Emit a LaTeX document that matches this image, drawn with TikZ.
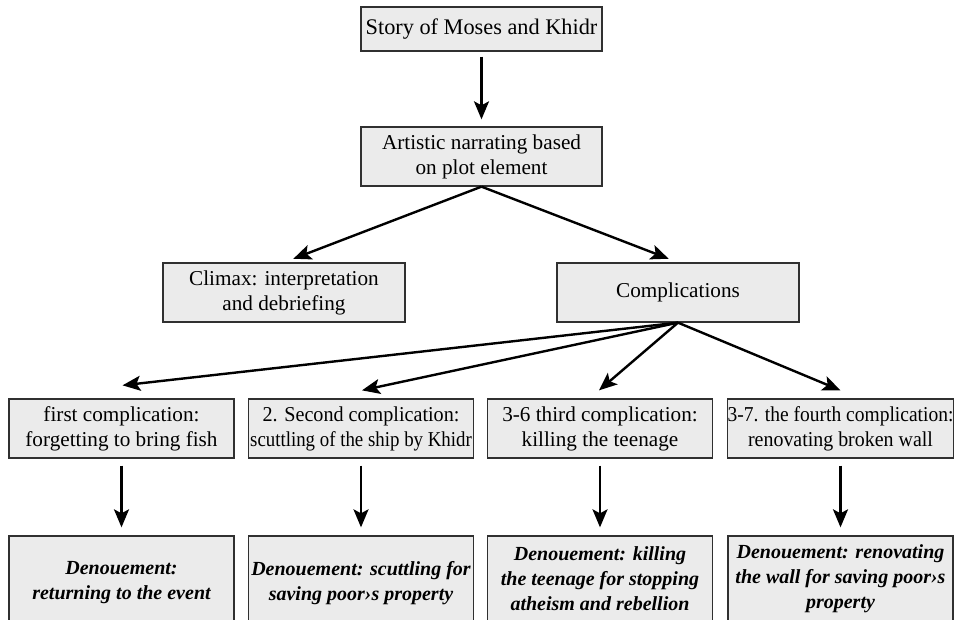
\documentclass[tikz,border=0pt]{standalone}
\usepackage{fontspec}
\setmainfont{Liberation Serif}
\usepackage{graphicx}
\usetikzlibrary{arrows.meta}
\definecolor{boxfill}{HTML}{EBEBEB}
\definecolor{boxline}{HTML}{303030}
\begin{document}
\begin{tikzpicture}[x=1pt,y=-1pt,
  box/.style={draw=boxline, line width=1.3pt, fill=boxfill, inner sep=0pt,
    align=center, font=\fontsize{21.2}{25}\selectfont},
  wide/.style={box, minimum width=241pt, minimum height=59pt},
  small/.style={box, minimum width=225pt, minimum height=59pt},
  denbox/.style={box, minimum width=225pt, minimum height=86pt,
    font=\fontsize{20}{25}\selectfont\bfseries\itshape},
  arr/.style={line width=2.4pt, -{Stealth[length=18pt,width=15pt,inset=4pt]}}
]
\useasboundingbox (0,0) rectangle (954,620);

\node[wide, minimum height=44pt, font=\fontsize{22.3}{25}\selectfont] (story) at (481.5,29) {Story of Moses and Khidr};
\node[wide] (art) at (481.5,156.5) {Artistic narrating based\\on plot element};
\node[wide, minimum width=242pt] (climax) at (284,292.5) {Climax: interpretation\\and debriefing};
\node[wide, minimum width=242pt] (comp) at (678,292.5) {Complications};

\node[small] (c1) at (121.5,428.5) {first complication:\\forgetting to bring fish};
\node[small] (c2) at (361,428.5) {\scalebox{0.95}[1]{2. Second complication:}\\\scalebox{0.89}[1]{scuttling of the ship by Khidr}};
\node[small] (c3) at (600,428.5) {3-6 third complication:\\killing the teenage};
\node[small] (c4) at (840.5,428.5) {\scalebox{0.92}[1]{3-7. the fourth complication:}\\\scalebox{0.94}[1]{renovating broken wall}};

\node[denbox, minimum height=94pt] (d1) at (121.5,583) {Denouement:\\returning to the event};
\node[denbox, minimum height=94pt] (d2) at (361,583) {Denouement: scuttling for\\saving poor›s property};
\node[denbox] (d3) at (600,579) {Denouement: killing\\the teenage for stopping\\atheism and rebellion};
\node[denbox] (d4) at (840.5,579) {Denouement: renovating\\the wall for saving poor›s\\property};

\coordinate (a1) at ([yshift=13pt,xshift=1pt]c1.north);
\coordinate (a2) at ([yshift=8pt,xshift=1pt]c2.north);
\coordinate (a3) at ([yshift=8pt,xshift=-1pt]c3.north);
\coordinate (a4) at ([yshift=8pt]c4.north);

\draw[arr, shorten <=5pt, shorten >=7pt] (story) -- (art);
\draw[arr, shorten >=10pt] (art.south) -- (climax.north);
\draw[arr, shorten >=10pt] (art.south) -- (comp.north);
\foreach \i in {1,2,3,4} {
  \draw[arr] (comp.south) -- (a\i);
  \draw[arr, shorten <=7pt, shorten >=8pt] (c\i.south) -- (d\i.north);
}
\end{tikzpicture}
\end{document}
